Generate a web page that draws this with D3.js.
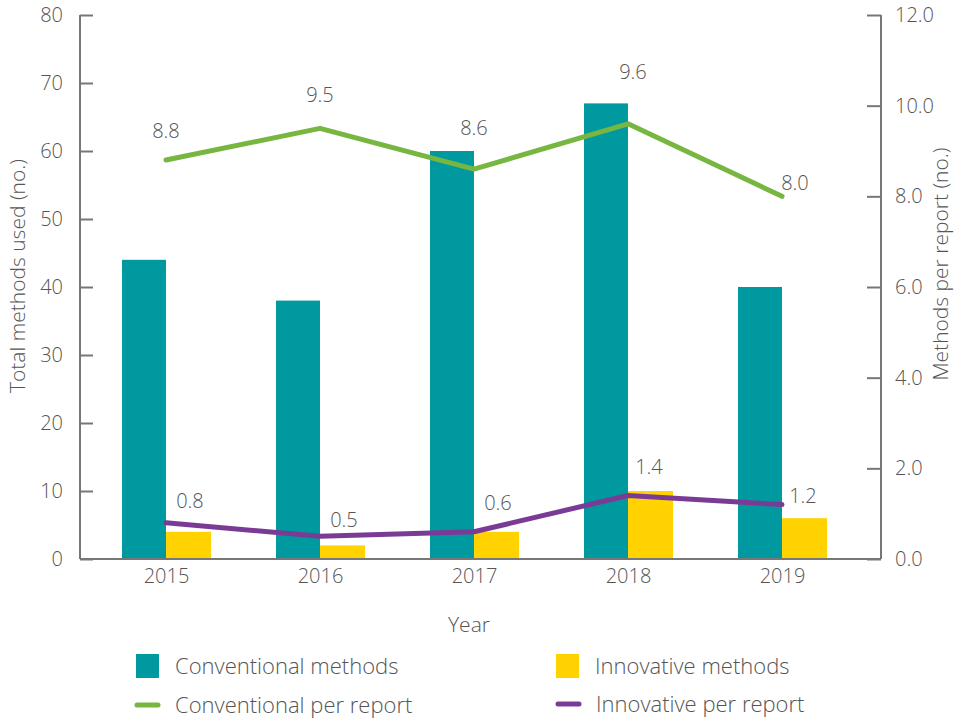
<!DOCTYPE html>
<html>
<head>
<meta charset="utf-8">
<script src="https://cdn.jsdelivr.net/npm/d3@7/dist/d3.min.js"></script>
<style>
  body { margin: 0; background: #fff; }
  svg text { font-family: "Open Sans", Lato, sans-serif; font-weight: 300; fill: #555; }
</style>
</head>
<body>
<svg id="chart" width="959" height="721"></svg>
<script>
// Data
const years = ["2015", "2016", "2017", "2018", "2019"];
const conventionalTotal = [44, 38, 60, 67, 40];
const innovativeTotal = [4, 2, 4, 10, 6];
const conventionalPerReport = [8.8, 9.5, 8.6, 9.6, 8.0];
const innovativePerReport = [0.8, 0.5, 0.6, 1.4, 1.2];
const leftTicks = [0, 10, 20, 30, 40, 50, 60, 70, 80];
const rightTicks = [0, 2, 4, 6, 8, 10, 12];

// Label offsets (dx, dy) relative to each line point
const convLabelOffset = [[0, -22], [0, -26], [0, -34], [5, -45], [13, -6]];
const innoLabelOffset = [[24, -15], [24, -9], [24, -22], [21, -22], [21, -2]];

const colors = {
  conv: "#00999f",
  inno: "#ffd200",
  convLine: "#77b640",
  innoLine: "#7a3b96",
  axis: "#777"
};

const svg = d3.select("#chart");
const plotLeft = 80, plotRight = 881, plotTop = 15, plotBottom = 559;

const x = d3.scalePoint().domain(years).range([166, 782]);
const yL = d3.scaleLinear().domain([0, 80]).range([plotBottom, plotTop]);
const yR = d3.scaleLinear().domain([0, 12]).range([plotBottom, plotTop]);
const barW = 44;

// Bars
const g = svg.append("g");
g.selectAll(".conv").data(years).join("rect")
  .attr("x", d => x(d) - barW)
  .attr("y", (d, i) => yL(conventionalTotal[i]))
  .attr("width", barW)
  .attr("height", (d, i) => plotBottom - yL(conventionalTotal[i]))
  .attr("fill", colors.conv);
g.selectAll(".inno").data(years).join("rect")
  .attr("x", d => x(d))
  .attr("y", (d, i) => yL(innovativeTotal[i]))
  .attr("width", barW + 1)
  .attr("height", (d, i) => plotBottom - yL(innovativeTotal[i]))
  .attr("fill", colors.inno);

// Axes
const leftAxis = d3.axisLeft(yL).tickValues(leftTicks).tickSize(-13).tickPadding(17).tickFormat(d3.format("d"));
const rightAxis = d3.axisRight(yR).tickValues(rightTicks).tickSize(-14).tickPadding(14).tickFormat(d3.format(".1f"));
const bottomAxis = d3.axisBottom(x).tickSize(0).tickPadding(10);

function styleAxis(sel) {
  sel.select(".domain").attr("stroke", colors.axis).attr("stroke-width", 2);
  sel.selectAll(".tick line").attr("stroke", colors.axis).attr("stroke-width", 2);
  sel.selectAll(".tick text").style("font-size", "20px").attr("fill", "#555");
}

svg.append("g").attr("transform", `translate(${plotLeft},0)`).call(leftAxis).call(styleAxis)
  .call(s => s.select(".domain").attr("d", `M0,${plotTop}V${plotBottom}`));
svg.append("g").attr("transform", `translate(${plotRight},0)`).call(rightAxis).call(styleAxis)
  .call(s => s.select(".domain").attr("d", `M0,${plotTop}V${plotBottom}`))
  .call(s => s.selectAll(".tick text").attr("text-anchor", "start"));
svg.append("g").attr("transform", `translate(0,${plotBottom})`).call(bottomAxis).call(styleAxis)
  .call(s => s.select(".domain").attr("d", `M${plotLeft},0H${plotRight}`))
  .call(s => s.selectAll(".tick text").attr("dy", "0.71em"));

// Axis titles
svg.append("text").attr("transform", "translate(25,276) rotate(-90)")
  .attr("text-anchor", "middle").style("font-size", "21px").text("Total methods used (no.)");
svg.append("text").attr("transform", "translate(948,264) rotate(-90)")
  .attr("text-anchor", "middle").style("font-size", "21px").text("Methods per report (no.)");
svg.append("text").attr("x", 469).attr("y", 632)
  .attr("text-anchor", "middle").style("font-size", "21px").text("Year");

// Lines
const line = d3.line().x(d => x(d[0])).y(d => yR(d[1]));
function drawLine(vals, color, offsets) {
  const pts = years.map((y, i) => [y, vals[i]]);
  svg.append("path").datum(pts).attr("d", line)
    .attr("fill", "none").attr("stroke", color).attr("stroke-width", 5)
    .attr("stroke-linecap", "round").attr("stroke-linejoin", "round");
  svg.append("g").selectAll("text").data(pts).join("text")
    .attr("x", (d, i) => x(d[0]) + offsets[i][0])
    .attr("y", (d, i) => yR(d[1]) + offsets[i][1])
    .attr("text-anchor", "middle")
    .style("font-size", "20px")
    .text(d => d3.format(".1f")(d[1]));
}
drawLine(conventionalPerReport, colors.convLine, convLabelOffset);
drawLine(innovativePerReport, colors.innoLine, innoLabelOffset);

// Legend
const legend = [
  { label: "Conventional methods", type: "rect", color: colors.conv, x: 136, y: 666 },
  { label: "Innovative methods", type: "rect", color: colors.inno, x: 556, y: 666 },
  { label: "Conventional per report", type: "line", color: colors.convLine, x: 136, y: 705 },
  { label: "Innovative per report", type: "line", color: colors.innoLine, x: 557, y: 704 }
];
legend.forEach(l => {
  if (l.type === "rect") {
    svg.append("rect").attr("x", l.x).attr("y", l.y - 12).attr("width", 23).attr("height", 24).attr("fill", l.color);
  } else {
    svg.append("line").attr("x1", l.x + 1).attr("x2", l.x + 22).attr("y1", l.y).attr("y2", l.y)
      .attr("stroke", l.color).attr("stroke-width", 5).attr("stroke-linecap", "round");
  }
  svg.append("text").attr("x", l.x + 39).attr("y", l.y).attr("dy", "0.35em")
    .style("font-size", "22px").text(l.label);
});
</script>
</body>
</html>
